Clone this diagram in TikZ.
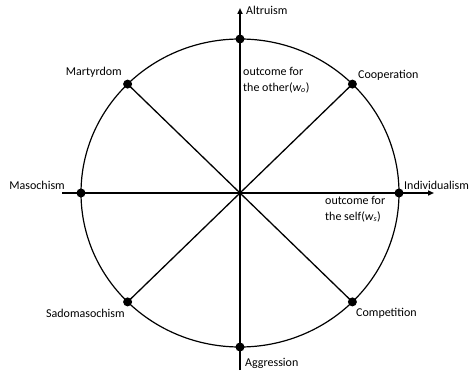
\documentclass[tikz,border=0pt]{standalone}
\usepackage{fontspec}
\setmainfont{Carlito}
\usetikzlibrary{arrows.meta}
\begin{document}
\begin{tikzpicture}[x=1pt,y=-1pt,
  dot/.style={circle,fill=black,inner sep=0pt,minimum size=9pt},
  lab/.style={inner sep=0pt,font=\fontsize{12}{16}\selectfont},
  axis/.style={line width=1.6pt},
  spoke/.style={line width=1.3pt},
  rim/.style={line width=1.2pt}]
\useasboundingbox (0,0) rectangle (476,374);
\coordinate (c) at (240,193);
\draw[rim] (c) ellipse [x radius=159, y radius=154];
% axes
\coordinate (ybot) at (240,370);
\coordinate (ytop) at (240,8);
\coordinate (xl) at (62,193);
\coordinate (xr) at (434,193);
\draw[axis,-{Triangle[length=6pt,width=5pt]}] (ybot) -- (ytop);
\draw[axis,-{Triangle[length=6pt,width=5pt]}] (xl) -- (xr);
% dots
\node[dot] (alt) at (240,39) {};
\node[dot] (agg) at (240,347) {};
\node[dot] (mas) at (81,193) {};
\node[dot] (ind) at (399,193) {};
\node[dot] (mar) at (127.6,84.1) {};
\node[dot] (coo) at (352.4,84.1) {};
\node[dot] (sad) at (127.6,301.9) {};
\node[dot] (com) at (352.4,301.9) {};
\draw[spoke] (mar.center) -- (com.center);
\draw[spoke] (coo.center) -- (sad.center);
% labels
\node[lab,anchor=west] (talt) at (246,10) {Altruism};
\node[lab,anchor=west] (tagg) at (245,363) {Aggression};
\node[lab,anchor=east] (tmas) at (65,185) {Masochism};
\node[lab,anchor=west] (tind) at (404,185) {Individualism};
\node[lab,anchor=east] (tmar) at (122,72) {Martyrdom};
\node[lab,anchor=west] (tcoo) at (358,75) {Cooperation};
\node[lab,anchor=east] (tsad) at (125,313) {Sadomasochism};
\node[lab,anchor=west] (tcom) at (356,313) {Competition};
\node[lab,anchor=west,align=left] (tother) at (243,80) {outcome for\\the other({\itshape w}\textsubscript{\itshape o})};
\node[lab,anchor=west,align=left] (tself) at (325,209) {outcome for\\the self({\itshape w}\textsubscript{\itshape s})};
\end{tikzpicture}
\end{document}
